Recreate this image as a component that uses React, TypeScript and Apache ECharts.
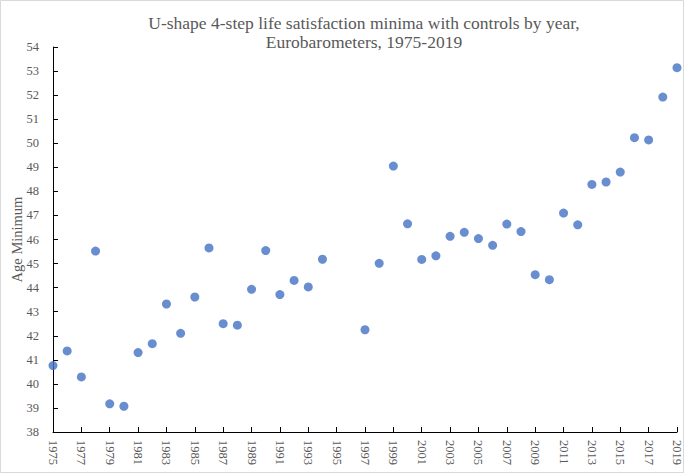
import React, { useEffect, useRef } from "react";
import * as echarts from "echarts";

const titleLines = [
  "U-shape 4-step life satisfaction minima with controls by year,",
  "Eurobarometers, 1975-2019",
];
const yAxisName = "Age Minimum";

const years = [
  1975, 1976, 1977, 1978, 1979, 1980, 1981, 1982, 1983, 1984, 1985, 1986, 1987,
  1988, 1989, 1990, 1991, 1992, 1993, 1994, 1997, 1998, 1999, 2000, 2001, 2002,
  2003, 2004, 2005, 2006, 2007, 2008, 2009, 2010, 2011, 2012, 2013, 2014, 2015,
  2016, 2017, 2018, 2019,
];
const ageMinimum = [
  40.76, 41.37, 40.29, 45.52, 39.17, 39.07, 41.3, 41.67, 43.32, 42.1, 43.61,
  45.65, 42.5, 42.44, 43.93, 45.54, 43.71, 44.3, 44.03, 45.18, 42.25, 45.01,
  49.05, 46.65, 45.17, 45.32, 46.13, 46.3, 46.04, 45.76, 46.64, 46.33, 44.54,
  44.33, 47.1, 46.61, 48.29, 48.39, 48.8, 50.23, 50.14, 51.92, 53.14,
];

const xMin = 1975;
const xMax = 2019;
const xStep = 2;
const yMin = 38;
const yMax = 54;
const yStep = 1;

export default function App() {
  const ref = useRef<HTMLDivElement>(null);

  useEffect(() => {
    if (!ref.current) return;
    const chart = echarts.init(ref.current, null, { renderer: "svg" });
    const serif = "'Liberation Serif', 'Times New Roman', serif";
    const textColor = "#595959";
    const data = years.map((y, i) => [y, ageMinimum[i]]);

    chart.setOption({
      animation: false,
      backgroundColor: "#ffffff",
      graphic: [
        {
          type: "rect",
          shape: { x: 0.5, y: 0.5, width: 683, height: 472 },
          style: { fill: "none", stroke: "#d9d9d9", lineWidth: 1 },
          silent: true,
        },
        {
          type: "text",
          x: 364,
          y: 23,
          style: {
            text: titleLines[0],
            font: `17.5px ${serif}`,
            fill: textColor,
            textAlign: "center",
            textVerticalAlign: "middle",
          },
        },
        {
          type: "text",
          x: 364,
          y: 42,
          style: {
            text: titleLines[1],
            font: `17.5px ${serif}`,
            fill: textColor,
            textAlign: "center",
            textVerticalAlign: "middle",
          },
        },
      ],
      grid: {
        left: 53,
        right: 8,
        top: 47,
        bottom: 42,
        containLabel: false,
        outerBoundsMode: "none",
      },
      xAxis: {
        type: "value",
        min: xMin,
        max: xMax,
        interval: xStep,
        splitLine: { show: false },
        axisLine: { lineStyle: { color: "#000000", width: 1 } },
        axisTick: { inside: true, length: 5, lineStyle: { color: "#000000" } },
        axisLabel: {
          rotate: -90,
          margin: 8,
          color: textColor,
          fontFamily: serif,
          fontSize: 12.5,
          formatter: (v: number) => String(v),
          showMinLabel: true,
          showMaxLabel: true,
        },
      },
      yAxis: {
        type: "value",
        min: yMin,
        max: yMax,
        interval: yStep,
        name: yAxisName,
        nameLocation: "middle",
        nameGap: 29,
        nameMoveOverlap: false,
        nameTextStyle: { color: textColor, fontFamily: serif, fontSize: 14.5 },
        splitLine: { show: false },
        axisLine: { show: true, lineStyle: { color: "#000000", width: 1 } },
        axisTick: { show: true, inside: true, length: 5, lineStyle: { color: "#000000" } },
        axisLabel: {
          margin: 14,
          color: textColor,
          fontFamily: serif,
          fontSize: 12.5,
        },
      },
      series: [
        {
          type: "scatter",
          data,
          symbol: "circle",
          symbolSize: 9,
          itemStyle: { color: "#4472C4" },
        },
      ],
    });

    return () => chart.dispose();
  }, []);

  return (
    <div
      ref={ref}
      style={{ position: "fixed", left: 0, top: 0, width: 685, height: 474 }}
    />
  );
}
